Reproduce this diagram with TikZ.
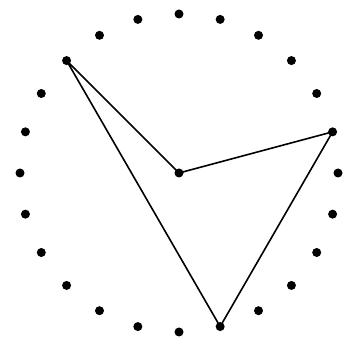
\documentclass[tikz,border=0pt]{standalone}
\usetikzlibrary{calc}
\begin{document}
\begin{tikzpicture}[x=1pt,y=1pt,
  dot/.style={circle,fill=black,inner sep=0pt,minimum size=9pt},
  edge/.style={line width=1.6pt,line join=round}]
\useasboundingbox (0,0) rectangle (350,339);
\coordinate (o) at (179,166);
\foreach \k in {0,...,23} {
  \node[dot] (d\k) at ($(o)+({90+15*\k}:159)$) {};
}
\node[dot] (c) at (o) {};
\draw[edge] (d3.center) -- (c.center) -- (d19.center) -- (d13.center) -- cycle;
\end{tikzpicture}
\end{document}
